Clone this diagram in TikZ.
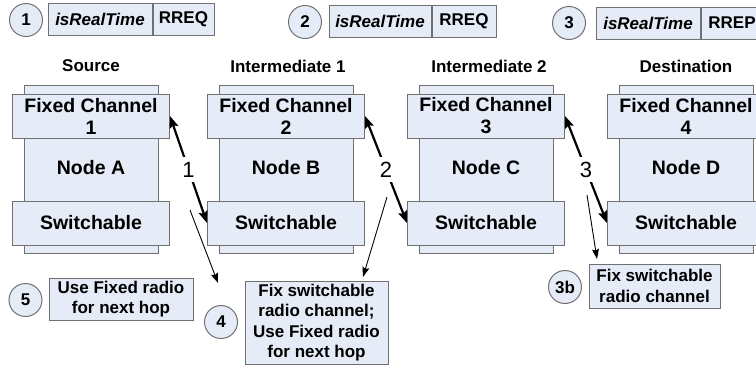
\documentclass[tikz,border=0pt]{standalone}
\usepackage{fontspec}
\setmainfont{Liberation Sans}
\usetikzlibrary{arrows.meta}
\definecolor{fillc}{RGB}{230,236,247}
\definecolor{bordc}{RGB}{112,112,112}
\tikzset{
  cell/.style={draw=bordc, fill=fillc, line width=1pt, inner sep=0pt, align=center,
    font=\fontsize{19.5}{22}\selectfont\bfseries},
  hdr/.style={cell, font=\fontsize{17}{20}\selectfont\bfseries},
  note/.style={cell, font=\fontsize{17}{20.5}\selectfont\bfseries},
  num/.style={circle, draw=bordc, fill=fillc, line width=1pt, minimum size=33pt, inner sep=0pt,
    font=\fontsize{17}{20}\selectfont\bfseries},
  title/.style={font=\fontsize{17}{20}\selectfont\bfseries},
  nodelbl/.style={font=\fontsize{19.5}{22}\selectfont\bfseries},
  hoplbl/.style={fill=white, inner xsep=2pt, inner ysep=5pt, font=\fontsize{22}{24}\selectfont},
  bigarrow/.style={line width=2.2pt, {Stealth[length=12pt,width=9pt,inset=2pt]}-{Stealth[length=12pt,width=9pt,inset=2pt]}},
  thinarrow/.style={line width=0.9pt, -{Stealth[length=10pt,width=7pt,inset=1.5pt]}}
}
\begin{document}
\begin{tikzpicture}[x=1pt,y=-1pt]
\useasboundingbox (0,0) rectangle (756,368);

% header messages
\node[num] (c1) at (26,20) {1};
\node[hdr, minimum width=104pt, minimum height=32pt] (m1a) at (100,19) {\itshape isRealTime};
\node[hdr, minimum width=61pt, minimum height=32pt, anchor=west] (m1b) at (m1a.east) {RREQ};
\node[num] (c2) at (305,22) {2};
\node[hdr, minimum width=102pt, minimum height=32pt] (m2a) at (380,21) {\itshape isRealTime};
\node[hdr, minimum width=64pt, minimum height=32pt, anchor=west] (m2b) at (m2a.east) {RREQ};
\node[num] (c3) at (569,23) {3};
\node[hdr, minimum width=104pt, minimum height=32pt] (m3a) at (648,23) {\itshape isRealTime};
\node[hdr, minimum width=62pt, minimum height=32pt, anchor=west] (m3b) at (m3a.east) {RREP};

% titles
\node[title] (tA) at (91,66) {Source};
\node[title] (tB) at (288,66) {Intermediate 1};
\node[title] (tC) at (489,66) {Intermediate 2};
\node[title] (tD) at (686,66) {Destination};

% node stacks
\foreach \nm/\cx/\fc/\lbl in {A/91/1/Node A, B/286/2/Node B, C/486/3/Node C, D/686/4/Node D}{
  \node[cell, minimum width=134pt, minimum height=168pt] (bg\nm) at (\cx,169) {};
  \node[cell, minimum width=157pt, minimum height=44pt] (f\nm) at (\cx,116) {Fixed Channel\\\fc};
  \node[nodelbl] (n\nm) at (\cx,168) {\lbl};
  \node[cell, minimum width=157pt, minimum height=44pt] (s\nm) at (\cx,223) {Switchable};
}

% hop arrows
\draw[bigarrow] (fA.east) -- node[hoplbl] (h1) {1} (sB.west);
\draw[bigarrow] (fB.east) -- node[hoplbl] (h2) {2} (sC.west);
\draw[bigarrow] (fC.east) -- node[hoplbl] (h3) {3} (sD.west);

% notes
\node[num] (c5) at (25.5,300) {5};
\node[note, minimum width=144pt, minimum height=42pt] (b5) at (121,299) {Use Fixed radio\\for next hop};
\node[num] (c4) at (221,322) {4};
\node[note, minimum width=143pt, minimum height=83pt] (b4) at (316.5,322.5) {Fix switchable\\radio channel;\\Use Fixed radio\\for next hop};
\node[num] (c3b) at (565,287) {3b};
\node[note, minimum width=131pt, minimum height=44pt] (b3b) at (654.5,286) {Fix switchable\\radio channel};

% thin arrows
\coordinate (t1s) at (190,210);
\coordinate (t1e) at (218,283);
\coordinate (t2s) at (387,197);
\coordinate (t2e) at (363,277);
\coordinate (t3s) at (587,195);
\coordinate (t3e) at (597,259);
\draw[thinarrow] (t1s) -- (t1e);
\draw[thinarrow] (t2s) -- (t2e);
\draw[thinarrow] (t3s) -- (t3e);
\end{tikzpicture}
\end{document}
